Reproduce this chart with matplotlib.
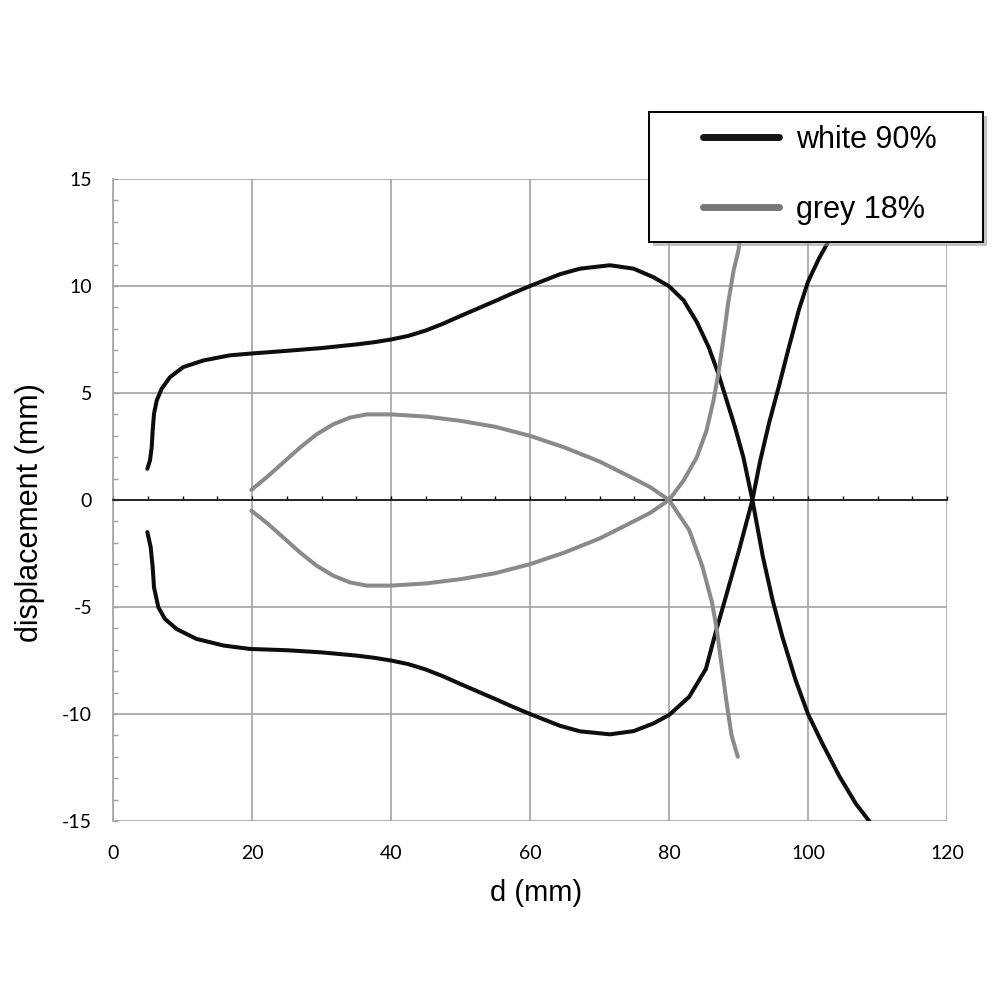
import matplotlib
matplotlib.use('Agg')
import matplotlib.pyplot as plt
from matplotlib.lines import Line2D
from matplotlib.patches import Rectangle
from matplotlib.ticker import MultipleLocator

plt.rcParams['axes.unicode_minus'] = False

# white 90% curves
white_up_x = [4.94, 5.32, 5.57, 5.71, 5.9, 6.29, 7.0, 8.2, 10.1, 13.0, 16.8, 19.7, 25, 30, 35, 37.5, 40,
              42.5, 45, 47.5, 50, 52.5, 55, 57.5, 60, 64.3, 67.2, 71.5, 74.9, 77.7, 80, 82.1, 84.0,
              85.7, 87.1, 88.3, 89.5, 90.7, 92.0, 93.5, 94.9, 96.3, 98.2, 100, 102.1, 104.5, 106.9, 108.8]
white_up_y = [1.46, 1.85, 2.47, 3.25, 4.03, 4.65, 5.2, 5.74, 6.21, 6.52, 6.76, 6.84, 6.97, 7.1, 7.27, 7.37, 7.5,
              7.67, 7.92, 8.24, 8.6, 8.95, 9.3, 9.66, 10.0, 10.55, 10.81, 10.97, 10.81, 10.42, 9.99, 9.33, 8.32,
              7.15, 5.9, 4.65, 3.4, 2.0, 0.0, -2.64, -4.67, -6.38, -8.4, -10.0, -11.4, -12.9, -14.2, -15.0]

white_lo_x = [4.94, 5.42, 5.71, 5.9, 6.52, 7.48, 9.16, 12.0, 15.9, 19.7, 25, 30, 35, 37.5, 40,
              42.5, 45, 47.5, 50, 52.5, 55, 57.5, 60, 64.3, 67.2, 71.5, 74.9, 77.7, 80, 82.9, 85.3,
              86.7, 88.2, 90.2, 92.0, 93.1, 94.4, 95.8, 97.3, 98.7, 100, 101.6, 102.8, 105, 107, 108.8]
white_lo_y = [-1.5, -2.2, -3.14, -4.08, -5.01, -5.56, -6.03, -6.49, -6.8, -6.96, -7.02, -7.12, -7.27, -7.37, -7.5,
              -7.67, -7.92, -8.24, -8.6, -8.95, -9.3, -9.66, -10.0, -10.55, -10.81, -10.95, -10.8, -10.45, -10.05, -9.2, -7.9,
              -6.2, -4.5, -2.2, 0.0, 1.8, 3.6, 5.3, 7.2, 8.9, 10.2, 11.3, 12.0, 13.4, 14.4, 15.0]

# grey 18% curves
grey_up_x = [19.9, 22.1, 24.5, 26.9, 29.3, 31.7, 34.1, 36.5, 40, 45, 50, 55, 60, 65, 70, 74,
             77.3, 80, 82.9, 84.8, 86.2, 86.9, 87.6, 88.3, 89.0, 89.9]
grey_up_y = [0.47, 1.06, 1.75, 2.45, 3.07, 3.54, 3.85, 4.0, 4.0, 3.9, 3.7, 3.42, 3.0, 2.45, 1.8, 1.15,
             0.6, 0.0, -1.4, -3.1, -4.8, -6.1, -7.8, -9.5, -11.0, -12.0]

grey_lo_x = [19.9, 22.1, 24.5, 26.9, 29.3, 31.7, 34.1, 36.5, 40, 45, 50, 55, 60, 65, 70, 74,
             77.3, 80, 82.1, 84.0, 85.4, 86.4, 87.1, 87.8, 88.5, 89.3, 90.0, 90.6, 91.1]
grey_lo_y = [-0.5, -1.06, -1.75, -2.45, -3.07, -3.54, -3.85, -4.0, -4.0, -3.9, -3.7, -3.42, -3.0, -2.45, -1.8, -1.15,
             -0.6, 0.0, 0.91, 2.0, 3.25, 4.65, 5.9, 7.46, 9.18, 10.73, 11.67, 13.3, 15.0]

x_ticks = [0, 20, 40, 60, 80, 100, 120]
labels = ['white 90%', 'grey 18%']
black = '#0d0d0d'
grey = '#8a8a8a'
gridc = '#a3a3a3'

tick_font = 'Lato'
text_font = 'Liberation Sans'

fig = plt.figure(figsize=(10, 10), dpi=100)
ax = fig.add_axes([0.113, 0.179, 0.834, 0.642])

ax.plot(white_up_x, white_up_y, color=black, lw=2.9, solid_capstyle='round', zorder=3)
ax.plot(white_lo_x, white_lo_y, color=black, lw=2.9, solid_capstyle='round', zorder=3)
ax.plot(grey_up_x, grey_up_y, color=grey, lw=2.9, solid_capstyle='round', zorder=3)
ax.plot(grey_lo_x, grey_lo_y, color=grey, lw=2.9, solid_capstyle='round', zorder=3)

ax.set_xlim(0, 120)
ax.set_ylim(-15, 15)

ax.set_xticks(x_ticks)
ax.xaxis.set_minor_locator(MultipleLocator(5))
ax.yaxis.set_major_locator(MultipleLocator(5))
ax.yaxis.set_minor_locator(MultipleLocator(1))
ax.grid(True, which='major', color=gridc, lw=1.2, zorder=0)
ax.set_axisbelow(True)

# horizontal axis crosses at zero, Excel style
ax.spines['bottom'].set_position(('data', 0))
ax.spines['bottom'].set_color('black')
ax.spines['bottom'].set_linewidth(1.1)
ax.spines['bottom'].set_zorder(2.5)
for s in ['top', 'right']:
    ax.spines[s].set_visible(False)
ax.spines['left'].set_color(gridc)
ax.spines['left'].set_linewidth(1.2)

ax.tick_params(axis='x', which='both', direction='in', length=3.2, width=1.0,
               color='black', labelbottom=False)
ax.tick_params(axis='y', which='both', direction='in', length=3.6, width=1.0,
               color=gridc, pad=15, labelsize=14)
for t in ax.get_yticklabels():
    t.set_fontfamily(tick_font)

sec = ax.secondary_xaxis('bottom')
sec.set_xticks(x_ticks)
sec.spines['bottom'].set_visible(False)
sec.tick_params(length=0, pad=17, labelsize=14)
for t in sec.get_xticklabels():
    t.set_fontfamily(tick_font)

ax.set_xlabel('d (mm)', fontsize=21, family=text_font)
ax.xaxis.set_label_coords(0.507, -0.112)
ax.xaxis.label.set_va('center')
ax.set_ylabel('displacement (mm)', fontsize=22, family=text_font)
ax.yaxis.set_label_coords(-0.0995, 0.48)
ax.yaxis.label.set_va('center')

# legend box with shadow, sticking out of the plot on the right
shadow = Rectangle((0.653, 0.754), 0.334, 0.130, transform=fig.transFigure,
                   facecolor='#9a9a9a', edgecolor='none', alpha=0.6, zorder=4)
box = Rectangle((0.649, 0.758), 0.334, 0.130, transform=fig.transFigure,
                facecolor='white', edgecolor='black', lw=1.4, zorder=5)
fig.patches.extend([shadow, box])

handles = [Line2D([], [], color='#151515', lw=5, solid_capstyle='round'),
           Line2D([], [], color='#777777', lw=5, solid_capstyle='round')]
leg = fig.legend(handles, labels, loc='center left', bbox_to_anchor=(0.703, 0.825),
                 frameon=False, borderpad=0, borderaxespad=0, handlelength=2.5,
                 handletextpad=0.55, labelspacing=1.3,
                 prop={'family': text_font, 'size': 22})
leg.set_zorder(6)

fig.savefig('out.png', dpi=100)
